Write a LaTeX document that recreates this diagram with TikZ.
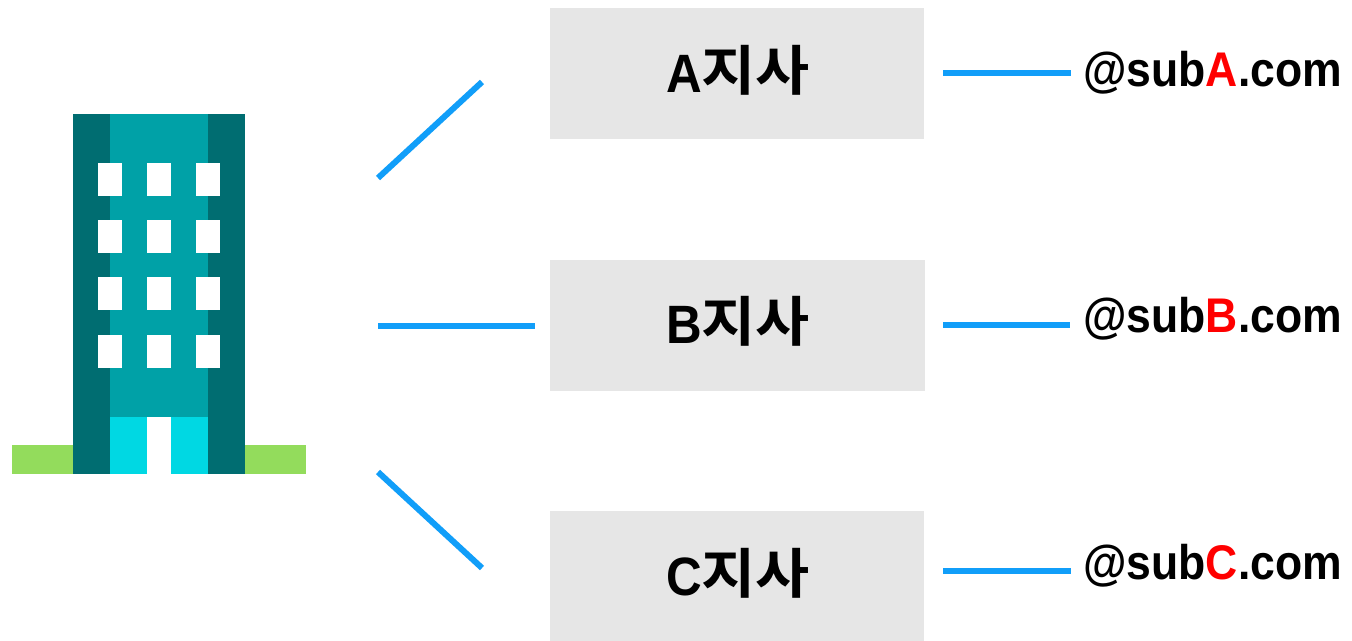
\documentclass[tikz,border=0pt]{standalone}
\usepackage{fontspec}
\setmainfont{Liberation Sans}[FakeStretch=0.915]
\newfontfamily\krfont{Noto Sans CJK KR}[BoldFont={Noto Sans CJK KR Bold},FakeStretch=1.09]
\definecolor{linkblue}{HTML}{119EF9}
\definecolor{boxgray}{HTML}{E6E6E6}
\definecolor{walldark}{HTML}{006D71}
\definecolor{wallmid}{HTML}{00A1A7}
\definecolor{doorcyan}{HTML}{00D8E3}
\definecolor{lawn}{HTML}{93DC5C}
\definecolor{domred}{HTML}{FF0000}
\tikzset{
  x=0.75pt,y=-0.75pt,
  branchbox/.style={fill=boxgray,draw=none,inner sep=0pt,minimum width=280.5pt,minimum height=98.25pt,anchor=north west},
  branchtext/.style={font=\fontsize{40.5pt}{44pt}\bfseries,inner sep=0pt,anchor=base},
  domaintext/.style={font=\fontsize{36.5pt}{40pt}\bfseries,inner sep=0pt,anchor=base west},
  link/.style={draw=linkblue,line width=4.5pt},
  win/.style={fill=white,draw=none}
}
\newcommand{\branchname}[1]{#1\raisebox{1.5pt}{\krfont\fontsize{40.5pt}{44pt}\selectfont 지사}}
\newcommand{\domainname}[1]{@sub\textcolor{domred}{#1}.com}
\begin{document}
\begin{tikzpicture}
\useasboundingbox (0,0) rectangle (1352,641);
\fill[white] (0,0) rectangle (1352,641);
% building
\fill[lawn] (12,445) rectangle (306,474);
\fill[walldark] (73,114) rectangle (245,474);
\fill[wallmid] (110,114) rectangle (208,417);
\fill[doorcyan] (110,417) rectangle (208,474);
\fill[white] (147,417) rectangle (171,474);
\foreach \yy in {163,220,277,335}
  \foreach \xx in {97.5,146.5,195.5}
    \fill[win] (\xx,\yy) rectangle ++(24.5,33);
% boxes
\node[branchbox] (boxA) at (550,8) {};
\node[branchbox,minimum width=281.25pt] (boxB) at (550,260) {};
\node[branchbox] (boxC) at (550,511) {};
\node[branchtext] (labA) at (738,93) {\branchname{A}};
\node[branchtext] (labB) at (738,344) {\branchname{B}};
\node[branchtext] (labC) at (738,595) {\branchname{C}};
% domains
\node[domaintext] (domA) at (1083,87) {\domainname{A}};
\node[domaintext] (domB) at (1083,333) {\domainname{B}};
\node[domaintext] (domC) at (1083,579) {\domainname{C}};
% connector ends
\coordinate (hubA) at (378,178); \coordinate (endA) at (482,82);
\coordinate (hubB) at (378,326); \coordinate (endB) at (535,326);
\coordinate (hubC) at (378,472); \coordinate (endC) at (482,568);
\coordinate (outA) at (943,73);  \coordinate (tipA) at (1071,73);
\coordinate (outB) at (943,325); \coordinate (tipB) at (1070,325);
\coordinate (outC) at (943,571); \coordinate (tipC) at (1071,571);
\draw[link] (hubA) -- (endA);
\draw[link] (hubB) -- (endB);
\draw[link] (hubC) -- (endC);
\draw[link] (outA) -- (tipA);
\draw[link] (outB) -- (tipB);
\draw[link] (outC) -- (tipC);
\end{tikzpicture}
\end{document}
